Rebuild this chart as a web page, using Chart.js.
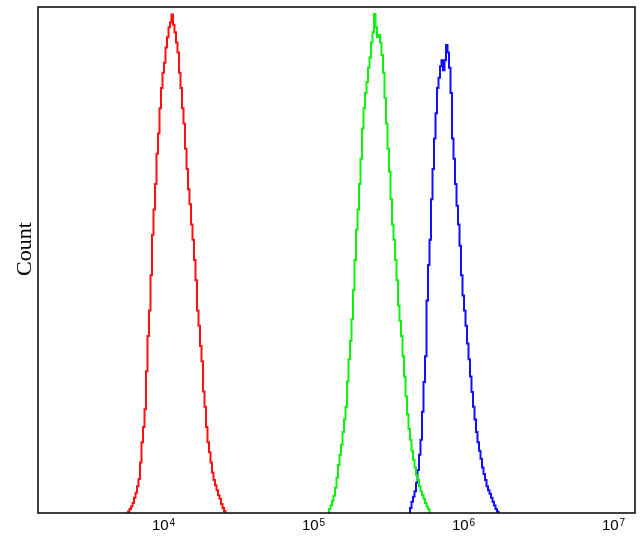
<!DOCTYPE html>
<html>
<head>
<meta charset="utf-8">
<script src="https://cdn.jsdelivr.net/npm/chart.js@4.4.1/dist/chart.umd.min.js"></script>
<style>
  html, body { margin: 0; padding: 0; background: #fff; }
  #wrap { width: 640px; height: 542px; }
</style>
</head>
<body>
<div id="wrap"><canvas id="histChart"></canvas></div>
<script>
// bin centres (log10 of intensity) and counts
const redBins = [3.78, 3.79, 3.80, 3.81, 3.82, 3.83, 3.84, 3.85, 3.86, 3.87, 3.88, 3.89, 3.90, 3.91, 3.92, 3.93, 3.94,
  3.95, 3.96, 3.97, 3.98, 3.99, 4.00, 4.01, 4.02, 4.03, 4.04, 4.05, 4.06, 4.07, 4.08, 4.09, 4.10, 4.11, 4.12, 4.13,
  4.14, 4.15, 4.16, 4.17, 4.18, 4.19, 4.20, 4.21, 4.22, 4.23, 4.24, 4.25, 4.26, 4.27, 4.28, 4.29, 4.30, 4.31, 4.32,
  4.33, 4.34, 4.35, 4.36, 4.37, 4.38, 4.39, 4.40, 4.41, 4.42, 4.43, 4.44];
const redCounts = [0, 0.3, 0.8, 1.3, 2, 3, 4, 5.3, 6.7, 10, 14, 17, 20.5, 28, 35, 40, 47,
  55, 60, 65, 71, 75, 80, 84, 87, 89, 92, 94, 96, 97, 98.5, 96.5, 95, 93, 91, 87,
  84, 80, 77, 72, 68, 64, 61, 57, 54, 50, 46, 40, 37, 33, 30, 24, 21, 17, 14,
  12, 10, 8, 6.5, 5.5, 4.5, 3.5, 2.8, 1.8, 1, 0.4, 0];

const greenBins = [5.12, 5.13, 5.14, 5.15, 5.16, 5.17, 5.18, 5.19, 5.20, 5.21, 5.22, 5.23, 5.24, 5.25, 5.26, 5.27,
  5.28, 5.29, 5.30, 5.31, 5.32, 5.33, 5.34, 5.35, 5.36, 5.37, 5.38, 5.39, 5.40, 5.41, 5.42, 5.43, 5.44, 5.45, 5.46,
  5.47, 5.48, 5.49, 5.50, 5.51, 5.52, 5.53, 5.54, 5.55, 5.56, 5.57, 5.58, 5.59, 5.60, 5.61, 5.62, 5.63, 5.64, 5.65,
  5.66, 5.67, 5.68, 5.69, 5.70, 5.71, 5.72, 5.73, 5.74, 5.75, 5.76, 5.77, 5.78, 5.79, 5.80];
const greenCounts = [0, 0.8, 1.5, 2.4, 3.4, 5, 7, 9.5, 11.5, 13.5, 16, 18.5, 21, 26, 30.4, 34,
  38.3, 44, 50, 56, 60, 65, 70, 76, 80, 83, 85.2, 88, 90, 93, 95, 98.6, 96, 94, 94.5,
  93, 90.5, 87, 82, 77, 72, 67.5, 62, 57, 54, 50, 46, 41, 38, 35, 31, 27, 23, 19.5,
  16.6, 14.5, 12.3, 10.5, 9, 7.5, 6.5, 5.3, 4.3, 3.5, 2.8, 2, 1.3, 0.8, 0];

const blueBins = [5.66, 5.67, 5.68, 5.69, 5.70, 5.71, 5.72, 5.73, 5.74, 5.75, 5.76, 5.77, 5.78, 5.79, 5.80, 5.81,
  5.82, 5.83, 5.84, 5.85, 5.86, 5.87, 5.88, 5.89, 5.90, 5.91, 5.92, 5.93, 5.94, 5.95, 5.96, 5.97, 5.98, 5.99, 6.00,
  6.01, 6.02, 6.03, 6.04, 6.05, 6.06, 6.07, 6.08, 6.09, 6.10, 6.11, 6.12, 6.13, 6.14, 6.15, 6.16, 6.17, 6.18, 6.19,
  6.20, 6.21, 6.22, 6.23, 6.24, 6.25, 6.26];
const blueCounts = [0, 1, 2.2, 3.2, 4.3, 6, 8.5, 11.5, 14.5, 20, 25.9, 31, 42, 49, 54, 62,
  68, 74, 79, 84, 86, 88.3, 89.5, 87.5, 89.5, 92.5, 91, 88, 83, 74, 70, 65, 60.7, 57, 52.8,
  47, 43, 40, 37, 33.5, 30.4, 27, 23.9, 21, 18.5, 16, 14, 12.3, 10.7, 9, 7.7, 6.5, 5.3, 4.5,
  3.8, 3, 2.2, 1.5, 0.8, 0.3, 0];

const decadeTicks = [1e4, 1e5, 1e6, 1e7];
const decadeExponents = ['4', '5', '6', '7'];

function toPoints(bins, counts) {
    return bins.map((b, i) => ({ x: Math.pow(10, b), y: counts[i] }));
}

// box round the plot area and "10" + superscript labels under the x axis
const frame = {
    id: 'frame',
    afterDraw(chart) {
        const a = chart.chartArea;
        const ctx = chart.ctx;
        const xs = chart.scales.x;
        ctx.save();
        ctx.strokeStyle = '#000';
        ctx.lineWidth = 1.5;
        ctx.strokeRect(a.left, a.top, a.right - a.left, a.bottom - a.top);

        ctx.fillStyle = '#000';
        ctx.textBaseline = 'alphabetic';
        decadeTicks.forEach((v, i) => {
            const px = xs.getPixelForValue(v);
            const base = a.bottom + 17;
            ctx.font = '15px "Liberation Sans"';
            ctx.textAlign = 'center';
            ctx.fillText('10', px, base);
            const w = ctx.measureText('10').width;
            ctx.font = '10px "Liberation Sans"';
            ctx.textAlign = 'left';
            ctx.fillText(decadeExponents[i], px + w / 2 + 1, base - 4);
        });
        ctx.restore();
    }
};

const ctx = document.getElementById('histChart').getContext('2d');
new Chart(ctx, {
    type: 'line',
    data: {
        datasets: [
            { data: toPoints(redBins, redCounts), borderColor: '#ff1010' },
            { data: toPoints(greenBins, greenCounts), borderColor: '#10f010' },
            { data: toPoints(blueBins, blueCounts), borderColor: '#1010ff' }
        ]
    },
    options: {
        responsive: true,
        maintainAspectRatio: false,
        animation: false,
        layout: { padding: { top: 7, right: 5, left: 0, bottom: 0 } },
        elements: {
            line: { borderWidth: 2, stepped: 'middle', tension: 0 },
            point: { radius: 0 }
        },
        plugins: { legend: { display: false }, tooltip: { enabled: false } },
        scales: {
            x: {
                type: 'logarithmic',
                min: Math.pow(10, 3.185),
                max: Math.pow(10, 7.165),
                grid: { display: false, drawTicks: false },
                border: { display: false },
                ticks: { display: false },
                afterFit: scale => { scale.height = 29; }
            },
            y: {
                min: 0,
                max: 100,
                grid: { display: false, drawTicks: false },
                border: { display: false },
                ticks: { display: false },
                afterFit: scale => { scale.width = 38; },
                title: {
                    display: true,
                    text: '\u00a0\u00a0\u00a0\u00a0Count',
                    color: '#000',
                    padding: { top: 12, bottom: 0 },
                    font: { family: 'Liberation Serif', size: 22 }
                }
            }
        }
    },
    plugins: [frame]
});
</script>
</body>
</html>
